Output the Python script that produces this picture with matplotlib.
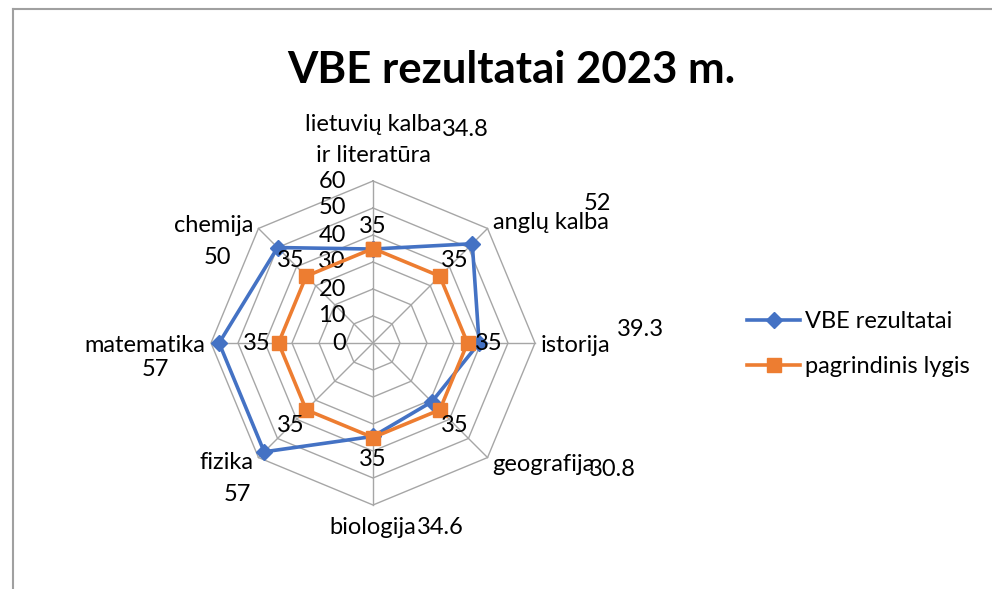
import numpy as np
import matplotlib
matplotlib.use("Agg")
import matplotlib.pyplot as plt

categories = ["lietuvių kalba\nir literatūra", "anglų kalba", "istorija", "geografija",
              "biologija", "fizika", "matematika", "chemija"]
vbe = [34.8, 52, 39.3, 30.8, 34.6, 57, 57, 50]
base = [35, 35, 35, 35, 35, 35, 35, 35]
ring_ticks = [0, 10, 20, 30, 40, 50, 60]
series_names = ["VBE rezultatai", "pagrindinis lygis"]
title = "VBE rezultatai 2023 m."

FONT = ["Lato", "DejaVu Sans"]
plt.rcParams["font.family"] = FONT
BLUE = "#4472C4"
ORANGE = "#ED7D31"
GRID = "#A6A6A6"
FS = 17

W, H = 992, 589
fig = plt.figure(figsize=(W / 100, H / 100), dpi=100)

# outer chart border (top & left visible)
fig.add_artist(plt.Line2D([13 / W, 13 / W], [0, 1 - 9 / H], color="#A0A0A0", lw=1.5))
fig.add_artist(plt.Line2D([13 / W, 1], [1 - 9 / H, 1 - 9 / H], color="#A0A0A0", lw=1.5))

cx, cy, R = 373, 343, 162
ax = fig.add_axes([(cx - R) / W, (H - cy - R) / H, 2 * R / W, 2 * R / H], projection="polar")
ax.set_theta_zero_location("N")
ax.set_theta_direction(-1)
ax.set_ylim(0, 60)
ax.grid(False)
ax.spines["polar"].set_visible(False)
ax.set_xticks([])
ax.set_yticks([])
ax.patch.set_alpha(0)

n = len(categories)
theta = np.arange(n) * 2 * np.pi / n
theta_c = np.append(theta, theta[0])

# octagon grid
for r in ring_ticks[1:]:
    ax.plot(theta_c, [r] * (n + 1), color=GRID, lw=1.0, zorder=1, clip_on=False)
for t in theta:
    ax.plot([t, t], [0, ring_ticks[-1]], color=GRID, lw=1.0, zorder=1, clip_on=False)

# series
ax.plot(theta_c, vbe + vbe[:1], color=BLUE, lw=2.6, marker="D", ms=8.5,
        zorder=3, clip_on=False, label=series_names[0])
ax.plot(theta_c, base + base[:1], color=ORANGE, lw=2.6, marker="s", ms=10,
        zorder=4, clip_on=False, label=series_names[1])

# radial tick labels
for r in ring_ticks:
    ax.annotate(str(r), (0, r), xytext=(-27, 0), textcoords="offset pixels",
                ha="right", va="center", fontsize=FS, color="#000000")

# category labels
cat_off = [(0, 41, "center"), (5, 6, "left"), (6, -2, "left"), (5, -7, "left"),
           (0, -22, "center"), (-5, -5, "right"), (-6, -2, "right"), (-5, 3, "right")]
for t, lab, (dx, dy, ha) in zip(theta, categories, cat_off):
    ax.annotate(lab, (t, 60), xytext=(dx, dy), textcoords="offset pixels",
                ha=ha, va="center", fontsize=FS, linespacing=1.55, annotation_clip=False)

# VBE data labels
vbe_off = [(92, 51), (110, 25), (105, 13), (125, -12), (67, -22), (-21, -37), (-56, -27), (-41, -29)]
for t, v, (dx, dy) in zip(theta, vbe, vbe_off):
    ax.annotate(f"{v:g}", (t, 60), xytext=(dx, dy), textcoords="offset pixels",
                ha="center", va="center", fontsize=FS, annotation_clip=False)

# base data labels (radially outward)
for t, v in zip(theta, base):
    ax.annotate(f"{v:g}", (t, v + 8), ha="center", va="center", fontsize=FS,
                annotation_clip=False, zorder=5)

fig.text(511 / W, 1 - 70 / H, title, ha="center", va="center", fontsize=31.5, fontweight="bold")

fig.legend(loc="center left", bbox_to_anchor=(726 / W, 1 - 344 / H), frameon=False,
           fontsize=FS, handlelength=2.25, labelspacing=1.0, handletextpad=0.2)

fig.savefig("out.png", dpi=100, facecolor="white")
